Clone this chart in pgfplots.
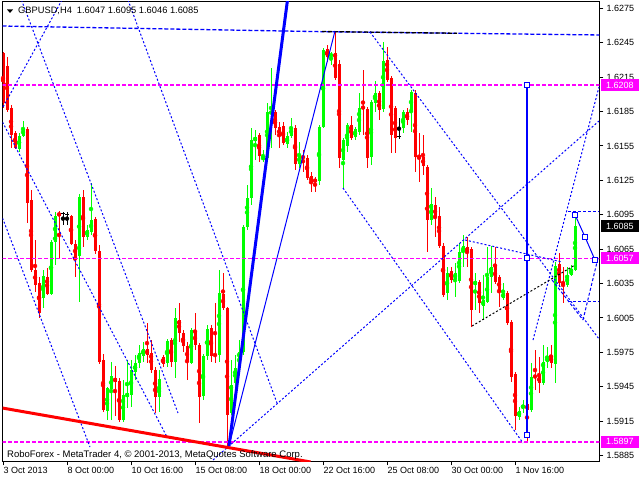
\documentclass[border=0pt]{standalone}
\usepackage{pgfplots}
\usepackage{pgfplotstable}
\pgfplotsset{compat=1.18}
\usepackage{fontspec}
\setmainfont{Liberation Sans}
\definecolor{mtred}{RGB}{255,0,0}
\definecolor{mtgreen}{RGB}{0,255,0}
\definecolor{mtblue}{RGB}{0,0,255}
\definecolor{mtmag}{RGB}{255,0,255}

\pgfplotstableread{
k o h l c
0 1.62360 1.62369 1.61880 1.61924
1 1.62247 1.62325 1.61845 1.61863
2 1.61880 1.61906 1.61532 1.61645
3 1.61662 1.61680 1.61523 1.61532
6 1.61697 1.61715 1.60879 1.61053
7 1.61079 1.61166 1.60451 1.60469
8 1.60469 1.60730 1.60277 1.60338
9 1.60355 1.60408 1.60050 1.60094
11 1.60408 1.60486 1.60251 1.60260
14 1.60966 1.60983 1.60565 1.60940
17 1.60940 1.60948 1.60687 1.60696
18 1.60696 1.60730 1.60408 1.60573
20 1.61104 1.61166 1.60669 1.60757
23 1.60913 1.60931 1.60608 1.60634
24 1.60634 1.60687 1.59649 1.59667
25 1.59684 1.59736 1.59230 1.59248
28 1.59527 1.59632 1.59196 1.59492
29 1.59501 1.59527 1.59143 1.59161
36 1.59780 1.60007 1.59658 1.59728
37 1.59745 1.59858 1.59571 1.59597
38 1.59597 1.59623 1.59222 1.59361
40 1.59710 1.59728 1.59623 1.59649
42 1.59858 1.59876 1.59623 1.59667
44 1.60033 1.60181 1.59841 1.59919
45 1.59919 1.59946 1.59754 1.59806
46 1.59806 1.59841 1.59510 1.59667
48 1.59937 1.60094 1.59771 1.59815
49 1.59815 1.59832 1.59135 1.59361
52 1.59963 1.59989 1.59667 1.59719
53 1.59736 1.60181 1.59658 1.59719
55 1.60260 1.60443 1.60120 1.60137
56 1.60137 1.60146 1.58934 1.59204
64 1.61645 1.61662 1.61410 1.61462
68 1.61845 1.61863 1.61645 1.61706
69 1.61715 1.61758 1.61532 1.61636
70 1.61723 1.61758 1.61558 1.61575
73 1.61706 1.61732 1.61340 1.61392
75 1.61462 1.61514 1.61322 1.61444
76 1.61444 1.61471 1.61253 1.61270
77 1.61288 1.61322 1.61148 1.61235
78 1.61261 1.61279 1.61148 1.61235
81 1.62395 1.62430 1.62282 1.62325
83 1.62360 1.62552 1.62125 1.62142
84 1.62264 1.62299 1.61357 1.61444
87 1.61732 1.61811 1.61601 1.61619
90 1.61889 1.62212 1.61645 1.61880
91 1.61872 1.61889 1.61357 1.61444
94 1.62011 1.62029 1.61776 1.61863
96 1.62299 1.62412 1.62107 1.62125
97 1.62142 1.62160 1.61488 1.61645
98 1.61880 1.61898 1.61488 1.61619
101 1.61845 1.61880 1.61732 1.61776
103 1.62011 1.62037 1.61322 1.61453
104 1.61471 1.61662 1.61235 1.61444
105 1.61453 1.61645 1.61296 1.61375
106 1.61366 1.61383 1.60626 1.60905
108 1.61035 1.61104 1.60757 1.60922
109 1.60940 1.61018 1.60661 1.60678
110 1.60678 1.60704 1.60233 1.60251
112 1.60460 1.60495 1.60355 1.60382
116 1.60669 1.60757 1.60495 1.60626
117 1.60652 1.60669 1.59972 1.60120
119 1.60364 1.60382 1.60094 1.60181
123 1.60504 1.60669 1.60347 1.60364
124 1.60408 1.60425 1.60146 1.60277
126 1.60268 1.60286 1.59989 1.60007
127 1.60015 1.60033 1.59492 1.59536
128 1.59562 1.59579 1.59074 1.59196
131 1.59300 1.59396 1.58970 1.59248
133 1.59545 1.59771 1.59423 1.59536
134 1.59545 1.59710 1.59396 1.59484
137 1.59719 1.59815 1.59614 1.59658
139 1.60521 1.60617 1.60321 1.60355
140 1.60364 1.60495 1.60181 1.60347
}\downdata

\pgfplotstableread{
k o h l c
4 1.61523 1.61662 1.61497 1.61636
5 1.61636 1.61767 1.61628 1.61706
10 1.60225 1.60469 1.60137 1.60417
12 1.60260 1.60730 1.60251 1.60713
13 1.60713 1.60974 1.60512 1.60940
19 1.60591 1.61131 1.60190 1.61104
21 1.60757 1.60861 1.60730 1.60818
22 1.60800 1.61227 1.60774 1.60905
26 1.59239 1.59449 1.59161 1.59440
27 1.59431 1.59667 1.59161 1.59545
30 1.59161 1.59510 1.59143 1.59379
31 1.59361 1.59684 1.59265 1.59396
32 1.59379 1.59684 1.59274 1.59597
33 1.59579 1.59728 1.59510 1.59658
34 1.59658 1.59815 1.59614 1.59745
35 1.59719 1.59841 1.59667 1.59780
39 1.59361 1.59597 1.59230 1.59518
41 1.59658 1.59867 1.59623 1.59850
43 1.59667 1.60137 1.59527 1.60050
47 1.59658 1.59963 1.59649 1.59946
50 1.59370 1.59736 1.59335 1.59719
51 1.59719 1.59989 1.59684 1.59954
54 1.59728 1.60469 1.59667 1.60268
57 1.59222 1.59684 1.59204 1.59466
58 1.59484 1.59728 1.59423 1.59614
59 1.59614 1.59858 1.59597 1.59754
60 1.59754 1.60861 1.59728 1.60844
61 1.60844 1.61209 1.60818 1.61096
62 1.61096 1.61706 1.61035 1.61601
63 1.61593 1.61689 1.61427 1.61628
65 1.61427 1.61514 1.61410 1.61462
66 1.61444 1.61924 1.61427 1.61845
67 1.61828 1.62229 1.61532 1.61854
71 1.61567 1.61671 1.61532 1.61636
72 1.61636 1.61793 1.61619 1.61715
74 1.61392 1.61584 1.61357 1.61471
79 1.61244 1.61732 1.61209 1.61715
80 1.61715 1.62404 1.61706 1.62386
82 1.62334 1.62369 1.62255 1.62351
85 1.61427 1.61619 1.61183 1.61601
86 1.61549 1.61750 1.61497 1.61732
88 1.61628 1.61715 1.61601 1.61697
89 1.61671 1.62011 1.61645 1.61880
92 1.61453 1.61950 1.61383 1.61933
93 1.61924 1.62116 1.61845 1.62011
95 1.61872 1.62456 1.61845 1.62290
100 1.61706 1.61863 1.61662 1.61845
102 1.61845 1.62037 1.61671 1.62020
107 1.60905 1.61183 1.60861 1.61044
111 1.60268 1.60495 1.60207 1.60443
113 1.60390 1.60530 1.60233 1.60443
114 1.60373 1.60704 1.60355 1.60626
115 1.60626 1.60774 1.60495 1.60678
118 1.60338 1.60443 1.60120 1.60373
120 1.60155 1.60425 1.60033 1.60207
121 1.60190 1.60669 1.60181 1.60408
122 1.60408 1.60678 1.60268 1.60495
125 1.60225 1.60355 1.60207 1.60268
129 1.59187 1.59274 1.59161 1.59239
130 1.59265 1.59335 1.59222 1.59291
132 1.59248 1.59658 1.59230 1.59536
135 1.59484 1.59815 1.59466 1.59667
136 1.59667 1.59797 1.59614 1.59710
138 1.59649 1.60538 1.59484 1.60504
141 1.60338 1.60495 1.60321 1.60425
142 1.60425 1.60512 1.60417 1.60478
143 1.60470 1.60950 1.60460 1.60850
}\updata

\pgfplotstableread{
k o h l c
15 1.60957 1.60974 1.60861 1.60957
16 1.60948 1.60974 1.60861 1.60948
99 1.61628 1.61793 1.61610 1.61628
}\dojidata

\newcommand{\lblfont}{\fontsize{9}{10}\selectfont}
\tikzset{dotl/.style={mtblue, line width=1pt, dash pattern=on 2pt off 2pt},
         dashl/.style={line width=1.3pt, dash pattern=on 4pt off 2pt}}

\begin{document}
\begin{tikzpicture}
\useasboundingbox (0pt,0pt) rectangle (640pt,480pt);
\fill[white] (0pt,0pt) rectangle (640pt,480pt);
\begin{axis}[
  at={(2.5pt,18.5pt)}, anchor=south west,
  width=596.8pt, height=459.8pt, scale only axis,
  xmin=-0.125, xmax=149.075, ymin=1.58799, ymax=1.62807,
  clip mode=individual,
  axis line style={black, line width=1pt},
  xtick={0,16,32,48,64,80,96,112,128},
  xticklabels={3 Oct 2013,8 Oct 00:00,10 Oct 16:00,15 Oct 08:00,18 Oct 00:00,22 Oct 16:00,25 Oct 08:00,30 Oct 00:00,1 Nov 16:00},
  ytick={1.5885,1.5915,1.5945,1.5975,1.6005,1.6035,1.6065,1.6095,1.6125,1.6155,1.6185,1.6215,1.6245,1.6275},
  yticklabels={1.5885,1.5915,1.5945,1.5975,1.6005,1.6035,1.6065,1.6095,1.6125,1.6155,1.6185,1.6215,1.6245,1.6275},
  scaled y ticks=false,
  ytick pos=right, yticklabel pos=right, xtick pos=left,
  tick align=outside, major tick length=4pt,
  tick style={black, line width=1pt},
  ticklabel style={font=\lblfont, text=black},
  yticklabel style={anchor=west, inner sep=0pt, xshift=3pt},
  xticklabel style={anchor=north west, inner sep=0pt, xshift=0.5pt, yshift=-2pt},
]
% ---- candles: wicks
\addplot[only marks, mark=none, mtred, error bars/.cd, y dir=both, y explicit, error mark=none, error bar style={line width=1pt}]
  table[x=k, y expr={(\thisrow{h}+\thisrow{l})/2}, y error expr={(\thisrow{h}-\thisrow{l})/2}] {\downdata};
\addplot[only marks, mark=none, mtgreen, error bars/.cd, y dir=both, y explicit, error mark=none, error bar style={line width=1pt}]
  table[x=k, y expr={(\thisrow{h}+\thisrow{l})/2}, y error expr={(\thisrow{h}-\thisrow{l})/2}] {\updata};
\addplot[only marks, mark=none, black, error bars/.cd, y dir=both, y explicit, error mark=none, error bar style={line width=1pt}]
  table[x=k, y expr={(\thisrow{h}+\thisrow{l})/2}, y error expr={(\thisrow{h}-\thisrow{l})/2}] {\dojidata};
% ---- candles: bodies
\addplot[only marks, mark=none, mtred, error bars/.cd, y dir=both, y explicit, error mark=none, error bar style={line width=3pt}]
  table[x=k, y expr={(\thisrow{o}+\thisrow{c})/2}, y error expr={abs(\thisrow{o}-\thisrow{c})/2}] {\downdata};
\addplot[only marks, mark=none, mtgreen, error bars/.cd, y dir=both, y explicit, error mark=none, error bar style={line width=3pt}]
  table[x=k, y expr={(\thisrow{o}+\thisrow{c})/2}, y error expr={abs(\thisrow{o}-\thisrow{c})/2}] {\updata};
\addplot[only marks, mark=-, mark size=1.6pt, black, mark options={line width=1pt}]
  table[x=k, y=o] {\dojidata};

% ---- horizontal magenta levels
\addplot[mtmag, dashl] coordinates {(-0.2,1.6208) (149.2,1.6208)};
\addplot[mtmag, dashl] coordinates {(-0.2,1.6057) (149.2,1.6057)};
\addplot[mtmag, dashl] coordinates {(-0.2,1.5897) (149.2,1.5897)};

% ---- top horizontal dashed lines
\addplot[mtblue, dashl] coordinates {(-0.125,1.62595) (79.25,1.62546) (149.075,1.62517)};
\addplot[black, dashl] coordinates {(79.75,1.62547) (113.5,1.62532)};

% ---- dotted trend lines
\addplot[dotl] coordinates {(4.625,1.62822) (43.75,1.59222)};
\addplot[dotl] coordinates {(14.75,1.62822) (-0.125,1.61880)};
\addplot[dotl] coordinates {(-0.125,1.61758) (41,1.59013)};
\addplot[dotl] coordinates {(-0.125,1.60922) (21.75,1.58925)};
\addplot[dotl] coordinates {(31.25,1.62822) (68.5,1.59309)};
\addplot[dotl] coordinates {(52.5,1.58812) (149,1.61767)};
\addplot[dotl] coordinates {(91.75,1.62543) (149,1.59867)};
\addplot[dotl] coordinates {(85,1.61183) (130,1.58960)};
\addplot[dotl] coordinates {(132.5,1.59858) (149,1.62064)};
\addplot[dotl] coordinates {(115.5,1.60730) (139.75,1.60538)};
\addplot[dotl, black] coordinates {(117.25,1.59980) (143,1.60512)};
\addplot[mtblue, line width=1pt, dash pattern=on 3pt off 2pt] coordinates {(141.25,1.60974) (149.075,1.60974)};
\addplot[mtblue, line width=1pt, dash pattern=on 3pt off 2pt] coordinates {(141.25,1.60190) (149.075,1.60190)};
\addplot[mtblue, line width=1pt, dash pattern=on 3pt off 2pt] coordinates {(137.25,1.60382) (145,1.60033)};
\addplot[mtblue, line width=1pt, dash pattern=on 3pt off 2pt] coordinates {(145,1.60033) (148.75,1.60573)};

% ---- solid lines
\addplot[mtred, line width=3pt] coordinates {(-0.125,1.59265) (76.875,1.58795)};
\addplot[mtblue, line width=3pt] coordinates {(56.5,1.58934) (71.125,1.62822)};
\addplot[mtblue, line width=1pt] coordinates {(56.5,1.58934) (83,1.62552)};
\addplot[mtblue, line width=1.3pt] coordinates {(131,1.6208) (131,1.59030)};
\addplot[mtblue, line width=1pt] coordinates {(143,1.6095) (145.5,1.60757) (148,1.60555)};
\addplot[only marks, mtblue, mark=square*, mark size=2.6pt, mark options={fill=white, line width=1pt}]
  coordinates {(131,1.6208) (131,1.6057) (131,1.5903) (143,1.6095) (145.5,1.60757) (148,1.60555)};

% ---- right-hand price boxes
\node[fill=mtmag, text=white, anchor=west, inner xsep=5pt, inner ysep=0pt, minimum height=12pt, font=\lblfont, xshift=1.7pt] at (axis cs:149.075,1.6208) {1.6208};
\node[fill=mtmag, text=white, anchor=west, inner xsep=5pt, inner ysep=0pt, minimum height=12pt, font=\lblfont, xshift=1.7pt] at (axis cs:149.075,1.6057) {1.6057};
\node[fill=mtmag, text=white, anchor=west, inner xsep=5pt, inner ysep=0pt, minimum height=12pt, font=\lblfont, xshift=1.7pt] at (axis cs:149.075,1.5897) {1.5897};
\node[fill=black, text=white, anchor=west, inner xsep=5pt, inner ysep=0pt, minimum height=12pt, font=\lblfont, xshift=1.7pt] at (axis cs:149.075,1.6085) {1.6085};
\end{axis}
% ---- title and footer texts
\fill[black] (7pt,470.5pt) -- (13pt,470.5pt) -- (10pt,467pt) -- cycle;
\node[anchor=base west, inner sep=0pt, font=\fontsize{9.3}{10}\selectfont] at (18pt,466pt) {GBPUSD,H4\hspace{5pt}1.6047 1.6095 1.6046 1.6085};
\node[anchor=base west, inner sep=0pt, font=\fontsize{9.5}{10}\selectfont] at (7pt,22.5pt) {RoboForex - MetaTrader 4, © 2001-2013, MetaQuotes Software Corp.};
\end{tikzpicture}
\end{document}
